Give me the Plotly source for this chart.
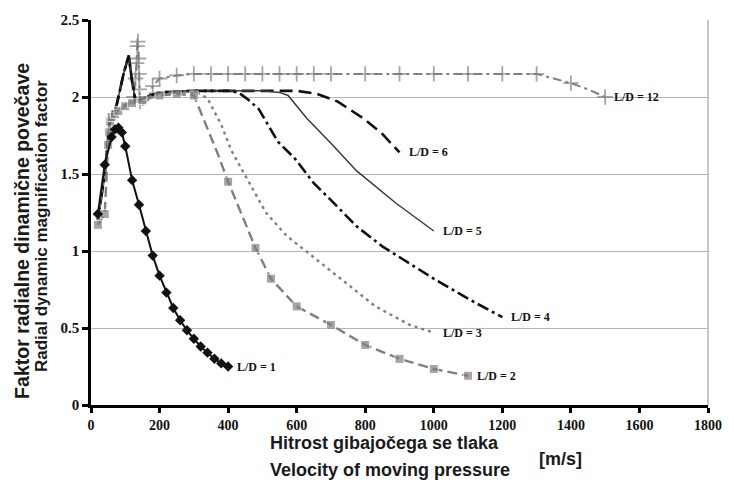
import plotly.graph_objects as go

# ---------------- data ----------------
ld1_x = [20, 40, 60, 70, 80, 90, 100, 120, 140, 160, 180, 200, 220, 240, 260, 280, 300, 320, 340, 360, 380, 400]
ld1_y = [1.24, 1.56, 1.74, 1.79, 1.80, 1.77, 1.68, 1.46, 1.30, 1.13, 0.97, 0.84, 0.73, 0.63, 0.55, 0.485, 0.43, 0.38, 0.34, 0.30, 0.27, 0.25]

ld2_x = [20, 40, 50, 53, 56, 60, 70, 80, 100, 120, 150, 200, 250, 300, 315, 370, 400, 480, 525, 600, 700, 800, 900, 1000, 1100]
ld2_y = [1.17, 1.24, 1.69, 1.77, 1.84, 1.87, 1.89, 1.91, 1.94, 1.96, 1.98, 2.01, 2.02, 2.01, 1.93, 1.63, 1.45, 1.02, 0.82, 0.64, 0.52, 0.39, 0.30, 0.234, 0.19]
ld2_unmarked = [315, 370]

ld3_x = [20, 40, 55, 70, 100, 150, 200, 250, 300, 320, 340, 380, 410, 470, 510, 570, 650, 740, 830, 930, 1000]
ld3_y = [1.20, 1.50, 1.82, 1.90, 1.95, 1.99, 2.02, 2.03, 2.03, 2.02, 1.99, 1.82, 1.65, 1.41, 1.25, 1.10, 0.96, 0.80, 0.64, 0.52, 0.47]

ld4_x = [20, 40, 55, 75, 95, 110, 120, 130, 160, 200, 300, 400, 430, 460, 490, 545, 595, 650, 700, 775, 850, 900, 1000, 1100, 1200]
ld4_y = [1.20, 1.50, 1.85, 1.95, 2.15, 2.27, 2.10, 1.97, 2.00, 2.03, 2.04, 2.04, 2.03, 1.98, 1.92, 1.71, 1.60, 1.44, 1.33, 1.16, 1.03, 0.96, 0.82, 0.69, 0.57]

ld5_x = [20, 40, 55, 75, 95, 110, 120, 130, 160, 200, 300, 400, 500, 550, 575, 630, 700, 775, 835, 890, 1000]
ld5_y = [1.20, 1.50, 1.85, 1.95, 2.15, 2.27, 2.10, 1.97, 2.00, 2.03, 2.04, 2.04, 2.04, 2.03, 2.01, 1.86, 1.70, 1.52, 1.41, 1.31, 1.13]

ld6_x = [20, 40, 55, 75, 95, 110, 120, 130, 160, 200, 300, 400, 500, 600, 660, 720, 795, 850, 900]
ld6_y = [1.20, 1.50, 1.85, 1.95, 2.15, 2.27, 2.10, 1.97, 2.00, 2.03, 2.04, 2.04, 2.04, 2.04, 2.02, 1.97, 1.86, 1.76, 1.64]

ld12_x = [20, 40, 55, 75, 100, 120, 125, 130, 133, 135, 137, 139, 140, 141, 143, 150, 165, 180, 200, 250, 300,
          350, 400, 450, 500, 550, 600, 650, 700, 800, 900, 1000, 1100, 1200, 1300, 1350, 1400, 1450, 1500]
ld12_y = [1.20, 1.50, 1.82, 1.90, 1.95, 1.98, 2.00, 2.12, 2.22, 2.33, 2.36, 2.25, 2.15, 2.05, 1.97, 1.95, 1.97, 2.07, 2.12, 2.14, 2.15,
          2.15, 2.15, 2.15, 2.15, 2.15, 2.15, 2.15, 2.15, 2.15, 2.15, 2.15, 2.15, 2.15, 2.15, 2.12, 2.09, 2.05, 2.00]
ld12_unmarked = [20, 40, 55, 75, 100, 120, 150, 165, 1350, 1450]

x_ticks = [0, 200, 400, 600, 800, 1000, 1200, 1400, 1600, 1800]
y_ticks = [0, 0.5, 1, 1.5, 2, 2.5]
y_tick_text = ["0", "0.5", "1", "1.5", "2", "2.5"]

labels = ["L/D = 1", "L/D = 2", "L/D = 3", "L/D = 4", "L/D = 5", "L/D = 6", "L/D = 12"]

# ---------------- figure ----------------
BLACK = "#111111"
GRAY = "#7f7f7f"
DGRAY = "#3a3a3a"

fig = go.Figure()

def sizes(xs, unmarked, s):
    return [0 if x in unmarked else s for x in xs]

# drawn back-to-front
fig.add_trace(go.Scatter(x=ld12_x, y=ld12_y, mode="lines+markers",
                         line=dict(color=GRAY, width=2, dash="9px,4px,3px,4px"),
                         marker=dict(symbol="cross-thin", size=sizes(ld12_x, ld12_unmarked, 11),
                                     line=dict(color=GRAY, width=1.8))))
fig.add_trace(go.Scatter(x=ld6_x, y=ld6_y, mode="lines",
                         line=dict(color=BLACK, width=2.6, dash="13px,6px")))
fig.add_trace(go.Scatter(x=ld5_x, y=ld5_y, mode="lines",
                         line=dict(color=DGRAY, width=1.5)))
fig.add_trace(go.Scatter(x=ld4_x, y=ld4_y, mode="lines",
                         line=dict(color=BLACK, width=2.6, dash="12px,4px,3px,4px")))
fig.add_trace(go.Scatter(x=ld3_x, y=ld3_y, mode="lines",
                         line=dict(color=GRAY, width=2.4, dash="3px,4px")))
fig.add_trace(go.Scatter(x=ld2_x, y=ld2_y, mode="lines+markers",
                         line=dict(color=GRAY, width=2.4, dash="10px,5px"),
                         marker=dict(symbol="square", size=sizes(ld2_x, ld2_unmarked, 9), color=GRAY)))
fig.add_trace(go.Scatter(x=ld1_x, y=ld1_y, mode="lines+markers",
                         line=dict(color=BLACK, width=2),
                         marker=dict(symbol="diamond", size=8, color=BLACK)))

ends = [(ld1_x, ld1_y), (ld2_x, ld2_y), (ld3_x, ld3_y), (ld4_x, ld4_y),
        (ld5_x, ld5_y), (ld6_x, ld6_y), (ld12_x, ld12_y)]
for lab, (xs, ys) in zip(labels, ends):
    fig.add_annotation(x=xs[-1], y=ys[-1], text=lab, showarrow=False,
                       xanchor="left", yanchor="middle", xshift=7,
                       font=dict(family="Liberation Serif", size=12, color="#111111", weight="bold"))

tick_font = dict(family="Liberation Serif", size=14, color="#111111", weight="bold")
title_font = dict(family="Liberation Sans", size=18, color="#1a1a1a", weight="bold")

fig.update_xaxes(range=[0, 1800], tickvals=x_ticks, ticks="outside", ticklen=5, tickwidth=2.5,
                 tickcolor="black", showline=True, linecolor="black", linewidth=2.5,
                 showgrid=False, zeroline=False, tickfont=tick_font)
fig.update_yaxes(range=[0, 2.5], tickvals=y_ticks, ticktext=y_tick_text, ticks="outside",
                 ticklen=6, tickwidth=2.5, tickcolor="black", showline=True, linecolor="black",
                 linewidth=2.5, showgrid=True, gridcolor="#b5b5b5", gridwidth=1, zeroline=False,
                 tickfont=dict(family="Liberation Serif", size=15, color="#111111", weight="bold"))

# right border
fig.add_shape(type="line", xref="paper", yref="paper", x0=1, x1=1, y0=0, y1=1,
              line=dict(color="#a0a0a0", width=1.2))

# y title: two rotated lines
fig.add_annotation(xref="paper", yref="paper", x=-0.112, y=0.452, textangle=-90,
                   text="Faktor radialne dinamične povečave",
                   showarrow=False, xanchor="center", yanchor="middle",
                   font=dict(family="Liberation Sans", size=19.5, color="#1a1a1a", weight="bold"))
fig.add_annotation(xref="paper", yref="paper", x=-0.08, y=0.464, textangle=-90,
                   text="Radial dynamic magnification factor",
                   showarrow=False, xanchor="center", yanchor="middle",
                   font=dict(family="Liberation Sans", size=17, color="#1a1a1a", weight="bold"))
# x title: two lines, left aligned, plus unit
fig.add_annotation(xref="paper", yref="paper", x=0.2867, y=-0.099, xanchor="left", yanchor="middle",
                   text="Hitrost gibajočega se tlaka", showarrow=False, font=title_font)
fig.add_annotation(xref="paper", yref="paper", x=0.2867, y=-0.17, xanchor="left", yanchor="middle",
                   text="Velocity of moving pressure", showarrow=False, font=title_font)
fig.add_annotation(xref="paper", yref="paper", x=0.723, y=-0.14, xanchor="left", yanchor="middle",
                   text="[m/s]", showarrow=False, font=title_font)

fig.update_layout(width=734, height=487, margin=dict(l=91, r=18, t=13, b=82),
                  plot_bgcolor="white", paper_bgcolor="white", showlegend=False)

fig.write_html("out.html")
